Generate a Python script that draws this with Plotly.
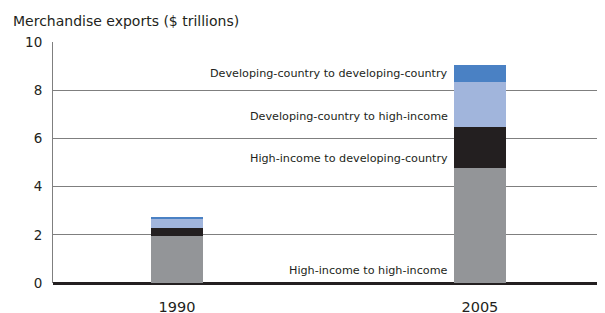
import plotly.graph_objects as go

years = ["1990", "2005"]
x_pos = [0, 1]
series_names = [
    "High-income to high-income",
    "High-income to developing-country",
    "Developing-country to high-income",
    "Developing-country to developing-country",
]
hi_hi = [1.93, 4.79]
hi_dev = [0.37, 1.70]
dev_hi = [0.36, 1.83]
dev_dev = [0.04, 0.71]
colors = ["#939598", "#231f20", "#a1b5dc", "#4a81c4"]
label_y = [0.52, 5.17, 6.92, 8.68]

FONT = "DejaVu Sans"
fig = go.Figure()
for name, vals, c in zip(series_names, [hi_hi, hi_dev, dev_hi, dev_dev], colors):
    fig.add_trace(go.Bar(x=x_pos, y=vals, name=name, marker=dict(color=c, line=dict(width=0)),
                         width=0.172, showlegend=False))

for name, ly in zip(series_names, label_y):
    fig.add_annotation(x=x_pos[1] - 0.1, y=ly, text=name, showarrow=False, xanchor="right",
                       yanchor="middle", font=dict(size=11.2, color="#231f20", family=FONT))

fig.add_annotation(xref="paper", yref="paper", x=-0.076, y=1.0, yshift=21, text="Merchandise exports ($ trillions)",
                   showarrow=False, xanchor="left", yanchor="middle",
                   font=dict(size=14, color="#231f20", family=FONT))

# browser body has 8px margin: compensate so plot area lands at page x 53..605, y 42..283
fig.update_layout(
    barmode="stack",
    width=597, height=305,
    margin=dict(l=45, r=0, t=34, b=30),
    plot_bgcolor="white", paper_bgcolor="white",
    font=dict(family=FONT, color="#231f20"),
    xaxis=dict(range=[-0.409, 1.413], tickvals=x_pos, ticktext=years, showgrid=False,
               zeroline=False, showline=False, ticks="", ticklabelstandoff=13,
               tickfont=dict(size=14.5), automargin=False),
    yaxis=dict(range=[0, 10], tickvals=[0, 2, 4, 6, 8, 10], showgrid=True, gridcolor="#7f7f7f",
               gridwidth=1, zeroline=True, zerolinecolor="#231f20", zerolinewidth=3,
               showline=True, linecolor="#7f7f7f", linewidth=1, ticks="",
               tickfont=dict(size=13.5), ticklabelstandoff=7, automargin=False),
)
fig.write_html("out.html")
